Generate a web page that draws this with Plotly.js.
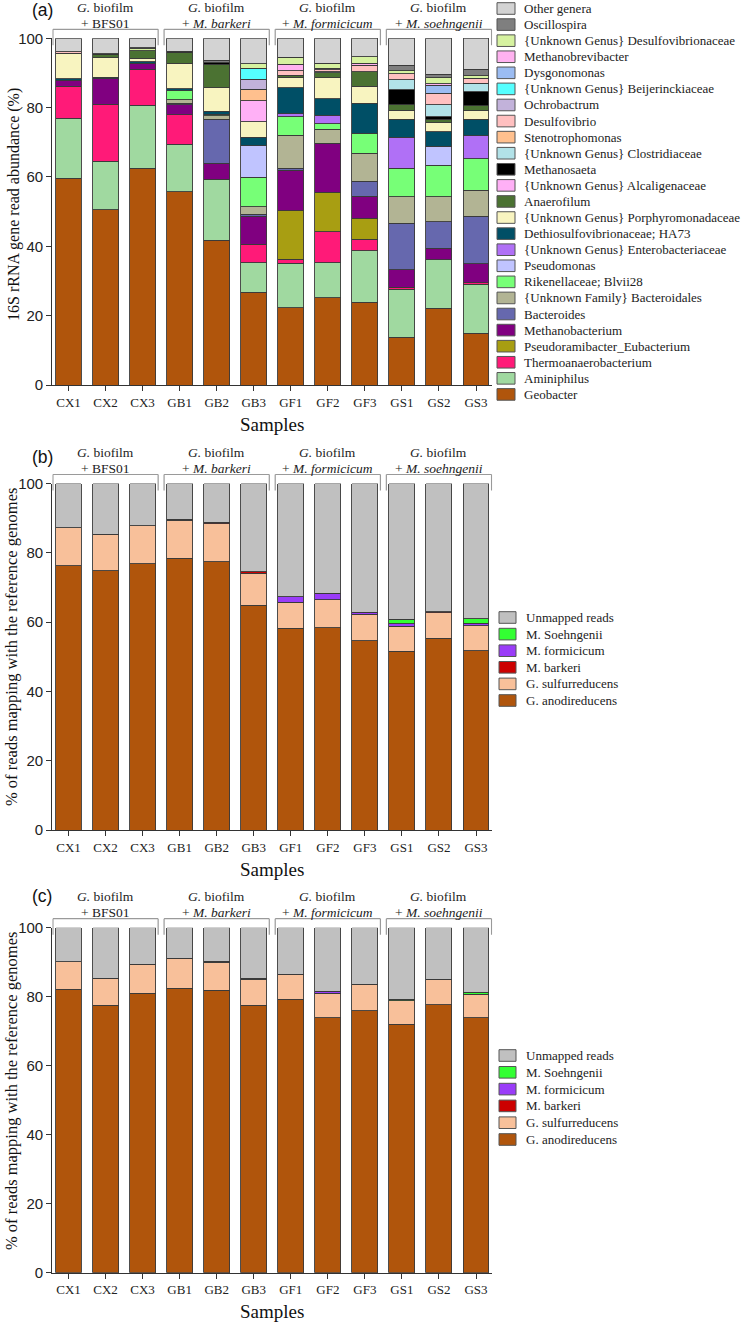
<!DOCTYPE html>
<html><head><meta charset="utf-8">
<script src="https://cdn.plot.ly/plotly-3.0.1.min.js"></script>
<style>html,body{margin:0;padding:0;background:#fff}#chart{width:748px;height:1324px}</style>
</head><body><div id="chart"></div>
<script>
const samples = ['CX1','CX2','CX3','GB1','GB2','GB3','GF1','GF2','GF3','GS1','GS2','GS3'];
const groupTop = ['<i>G.</i> biofilm','<i>G.</i> biofilm','<i>G.</i> biofilm','<i>G.</i> biofilm'];
const groupBottom = ['+ BFS01','+ <i>M. barkeri</i>','+ <i>M. formicicum</i>','+ <i>M. soehngenii</i>'];

// Panel (a): 16S rRNA read abundance (%), stacked bottom -> top
const geobacter        = [59.7,50.5,62.5,55.8,41.7,26.8,22.3,25.2,23.9,13.8,22.1,15.0];
const aminiphilus      = [17.2,14.0,18.2,13.7,17.6, 8.5,12.8,10.1,14.8,13.8,14.0,14.0];
const thermoanaero     = [ 9.2,16.5,10.4, 8.4, 0.0, 5.3, 1.2, 8.9, 3.4, 0.6, 0.0, 0.5];
const pseudoramibacter = [ 0.0, 0.0, 0.0, 0.0, 0.0, 0.0,14.0,11.4, 6.0, 0.0, 0.0, 0.0];
const methanobacterium = [ 1.8, 7.3, 1.7, 2.9, 4.6, 8.1,11.6,14.2, 6.4, 5.0, 3.3, 5.5];
const bacteroides      = [ 0.0, 0.0, 0.0, 0.4,12.7, 0.6, 0.6, 0.0, 4.3,13.4, 7.7,13.7];
const bacteroidales    = [ 0.0, 0.0, 0.0, 1.1, 1.1, 2.1, 9.6, 4.0, 8.0, 7.7, 7.2, 7.5];
const rikenellaceae    = [ 0.0, 0.0, 0.0, 2.6, 0.4, 8.5, 5.3, 1.6, 5.8, 8.2, 9.1, 9.0];
const pseudomonas      = [ 0.0, 0.0, 0.0, 0.0, 0.0, 9.1, 0.0, 0.0, 0.0, 0.0, 5.5, 0.0];
const enterobact       = [ 0.0, 0.0, 0.0, 0.0, 0.0, 0.0, 0.8, 2.4, 0.0, 9.0, 0.0, 6.7];
const ha73             = [ 0.5, 0.4, 0.4, 0.5, 0.8, 2.4, 7.5, 4.8, 8.7, 5.1, 4.1, 4.8];
const porphyromonad    = [ 7.3, 5.7, 1.1, 7.4, 6.9, 4.6, 3.0, 6.0, 4.8, 2.7, 2.6, 2.4];
const anaerofilum      = [ 0.0, 0.8, 2.1, 3.1, 6.7, 0.0, 0.7, 1.4, 4.2, 1.6, 1.0, 1.5];
const alcaligenaceae   = [ 0.0, 0.0, 0.0, 0.0, 0.0, 6.0, 0.0, 0.0, 0.0, 0.0, 0.0, 0.0];
const methanosaeta     = [ 0.0, 0.4, 0.0, 0.4, 0.5, 0.0, 0.0, 0.0, 0.0, 4.3, 0.8, 4.0];
const clostridiaceae   = [ 0.0, 0.0, 0.0, 0.0, 0.0, 0.0, 0.0, 0.4, 0.0, 2.9, 3.5, 2.4];
const stenotrophomonas = [ 0.0, 0.0, 0.0, 0.0, 0.0, 3.3, 0.0, 0.0, 0.0, 0.0, 0.0, 0.0];
const desulfovibrio    = [ 0.4, 0.0, 0.0, 0.0, 0.0, 0.0, 1.2, 0.5, 1.9, 1.7, 3.3, 1.5];
const ochrobactrum     = [ 0.0, 0.0, 0.0, 0.0, 0.0, 2.9, 0.0, 0.0, 0.0, 0.0, 0.0, 0.0];
const beijerinckiaceae = [ 0.0, 0.0, 0.0, 0.0, 0.0, 3.2, 0.0, 0.0, 0.0, 0.0, 0.0, 0.0];
const dysgonomonas     = [ 0.0, 0.0, 0.0, 0.0, 0.0, 0.0, 0.0, 0.0, 0.0, 0.0, 2.2, 0.0];
const methanobrevi     = [ 0.0, 0.0, 0.0, 0.0, 0.0, 0.0, 1.9, 0.5, 0.6, 0.0, 0.5, 0.0];
const desulfovibrionac = [ 0.0, 0.0, 0.6, 0.0, 0.0, 1.2, 2.0, 1.4, 1.9, 0.8, 1.7, 0.7];
const oscillospira     = [ 0.0, 0.0, 0.3, 0.0, 0.6, 0.0, 0.0, 0.0, 0.0, 1.7, 1.0, 1.9];
const otherGenera      = [ 3.9, 4.4, 2.7, 3.7, 6.4, 7.4, 5.5, 7.2, 5.3, 7.7,10.4, 8.9];

const generaNames = ['Geobacter','Aminiphilus','Thermoanaerobacterium','Pseudoramibacter_Eubacterium',
  'Methanobacterium','Bacteroides','{Unknown Family} Bacteroidales','Rikenellaceae; Blvii28','Pseudomonas',
  '{Unknown Genus} Enterobacteriaceae','Dethiosulfovibrionaceae; HA73','{Unknown Genus} Porphyromonadaceae',
  'Anaerofilum','{Unknown Genus} Alcaligenaceae','Methanosaeta','{Unknown Genus} Clostridiaceae',
  'Stenotrophomonas','Desulfovibrio','Ochrobactrum','{Unknown Genus} Beijerinckiaceae','Dysgonomonas',
  'Methanobrevibacter','{Unknown Genus} Desulfovibrionaceae','Oscillospira','Other genera'];
const generaValues = [geobacter,aminiphilus,thermoanaero,pseudoramibacter,methanobacterium,bacteroides,
  bacteroidales,rikenellaceae,pseudomonas,enterobact,ha73,porphyromonad,anaerofilum,alcaligenaceae,
  methanosaeta,clostridiaceae,stenotrophomonas,desulfovibrio,ochrobactrum,beijerinckiaceae,dysgonomonas,
  methanobrevi,desulfovibrionac,oscillospira,otherGenera];
const generaColors = ['#b0550c','#a0d9a0','#ff1a78','#a89e12','#800080','#6668ae','#b2b494','#77ff77',
  '#c0c4ff','#b070f6','#004f66','#f8f4c0','#4b7232','#ffb0f6','#000000','#b2e2e8','#ffc08e','#ffc0c0',
  '#c2b2da','#55ffff','#9bbcf2','#ffb2f0','#d6f2a0','#7f7f7f','#d3d3d3'];

// Panels (b) and (c): % of reads mapping with reference genomes
const refNames  = ['G. anodireducens','G. sulfurreducens','M. barkeri','M. formicicum','M. Soehngenii','Unmapped reads'];
const refColors = ['#b0550c','#f8c09a','#cc0000','#9a3cf8','#33ff33','#c0c0c0'];
const bAnodi   = [76.3,74.8,76.8,78.4,77.4,64.8,58.2,58.4,54.6,51.6,55.3,51.8];
const bSulfur  = [11.0,10.6,11.0,11.0,11.0, 9.3, 7.5, 8.0, 7.6, 7.2, 7.4, 7.1];
const bBarkeri = [ 0.0, 0.0, 0.0, 0.3, 0.4, 0.4, 0.0, 0.0, 0.0, 0.0, 0.3, 0.0];
const bFormic  = [ 0.0, 0.0, 0.0, 0.0, 0.0, 0.0, 1.6, 1.9, 0.7, 0.7, 0.0, 0.7];
const bSoehn   = [ 0.0, 0.0, 0.0, 0.0, 0.0, 0.0, 0.0, 0.0, 0.0, 1.3, 0.0, 1.3];
const bUnmap   = [12.7,14.6,12.2,10.3,11.2,25.5,32.7,31.7,37.1,39.2,37.0,39.1];
const cAnodi   = [82.2,77.5,81.0,82.5,81.8,77.5,79.3,73.9,75.9,72.0,77.6,73.9];
const cSulfur  = [ 8.0, 7.8, 8.4, 8.6, 8.2, 7.6, 7.0, 7.1, 7.5, 6.8, 7.4, 6.8];
const cBarkeri = [ 0.0, 0.0, 0.0, 0.0, 0.3, 0.2, 0.2, 0.0, 0.2, 0.0, 0.0, 0.0];
const cFormic  = [ 0.0, 0.0, 0.0, 0.0, 0.0, 0.0, 0.0, 0.6, 0.0, 0.0, 0.0, 0.0];
const cSoehn   = [ 0.0, 0.0, 0.0, 0.0, 0.0, 0.0, 0.0, 0.0, 0.0, 0.5, 0.0, 0.6];
const cUnmap   = [ 9.8,14.7,10.6, 8.9, 9.7,14.7,13.5,18.4,16.4,20.7,15.0,18.7];

const W = 748, H = 1324;
const SERIF = '"Liberation Serif","Times New Roman",serif';
const SANS = '"Liberation Sans",Arial,sans-serif';
const py = p => (H - p) / H;
const pxx = p => p / W;

const panels = [
  {xa:'x', ya:'y', top:38.3, bottom:385, tag:'(a)', tagY:10, ytitle:'16S rRNA gene read abundance (%)', ytY:205, ytS:16, ytX:14, sY:424},
  {xa:'x2', ya:'y2', top:483.5, bottom:830, tag:'(b)', tagY:457, ytitle:'% of reads mapping with the reference genomes', ytY:647, ytS:16.5, ytX:11, sY:869},
  {xa:'x3', ya:'y3', top:927.7, bottom:1272.7, tag:'(c)', tagY:896, ytitle:'% of reads mapping with the reference genomes', ytY:1091, ytS:16.5, ytX:11, sY:1311}
];

const traces = [];
const lineStyle = {color:'#3a3a3a', width:0.9};
generaNames.forEach((n,i) => traces.push({type:'bar', name:n, x:samples, y:generaValues[i], xaxis:'x', yaxis:'y',
  marker:{color:generaColors[i], line:lineStyle}, showlegend:false}));
const bVals = [bAnodi,bSulfur,bBarkeri,bFormic,bSoehn,bUnmap];
const cVals = [cAnodi,cSulfur,cBarkeri,cFormic,cSoehn,cUnmap];
refNames.forEach((n,i) => {
  traces.push({type:'bar', name:n, x:samples, y:bVals[i], xaxis:'x2', yaxis:'y2', marker:{color:refColors[i], line:lineStyle}, showlegend:false});
  traces.push({type:'bar', name:n, x:samples, y:cVals[i], xaxis:'x3', yaxis:'y3', marker:{color:refColors[i], line:lineStyle}, showlegend:false});
});

const xDom = [pxx(52.2), pxx(492.3)];
const layout = {width:W, height:H, margin:{l:0,r:0,t:0,b:0}, paper_bgcolor:'#fff', plot_bgcolor:'#fff',
  barmode:'stack', bargap:0.3, showlegend:false, shapes:[], annotations:[], font:{family:SERIF, color:'#222'}};

panels.forEach((p,k) => {
  const sfx = k === 0 ? '' : String(k+1);
  layout['xaxis'+sfx] = {domain:xDom, anchor:p.ya, type:'category', range:[-0.44, 11.44], showline:true,
    linecolor:'#333', linewidth:1, ticks:'outside', ticklen:5, tickcolor:'#333', showgrid:false, zeroline:false,
    tickfont:{family:SERIF, size:13, color:'#222'}, fixedrange:true};
  layout['yaxis'+sfx] = {domain:[py(p.bottom), py(p.top)], anchor:p.xa, range:[0,100], dtick:20, showline:true,
    linecolor:'#333', linewidth:1, ticks:'outside', ticklen:5, tickcolor:'#333', showgrid:false, zeroline:false,
    tickfont:{family:SANS, size:15, color:'#222'}, fixedrange:true};
  for (let g = 0; g < 4; g++) {
    const xa = p.xa, x0 = g*3 - 0.42, x1 = g*3 + 2.42;
    const yh = py(p.top - 9), ye = py(p.top + 7);
    const ln = {color:'#9a9a9a', width:1.2};
    layout.shapes.push({type:'line', xref:xa, yref:'paper', x0:x0, x1:x1, y0:yh, y1:yh, line:ln});
    layout.shapes.push({type:'line', xref:xa, yref:'paper', x0:x0, x1:x0, y0:yh, y1:ye, line:ln});
    layout.shapes.push({type:'line', xref:xa, yref:'paper', x0:x1, x1:x1, y0:yh, y1:ye, line:ln});
    layout.annotations.push({xref:xa, yref:'paper', x:g*3+1, y:py(p.top - 31), text:groupTop[g], showarrow:false,
      xanchor:'center', yanchor:'middle', font:{family:SERIF, size:13.5, color:'#222'}});
    layout.annotations.push({xref:xa, yref:'paper', x:g*3+1, y:py(p.top - 15), text:groupBottom[g], showarrow:false,
      xanchor:'center', yanchor:'middle', font:{family:SERIF, size:13.5, color:'#222'}});
  }
  layout.annotations.push({xref:'paper', yref:'paper', x:pxx(30), y:py(p.tagY), text:p.tag, showarrow:false,
    xanchor:'left', yanchor:'middle', font:{family:SANS, size:17.5, color:'#111'}});
  layout.annotations.push({xref:'paper', yref:'paper', x:pxx(p.ytX), y:py(p.ytY), text:p.ytitle, showarrow:false,
    textangle:-90, xanchor:'center', yanchor:'middle', font:{family:SERIF, size:p.ytS, color:'#111'}});
  layout.annotations.push({xref:'paper', yref:'paper', x:pxx(272), y:py(p.sY), text:'Samples', showarrow:false,
    xanchor:'center', yanchor:'middle', font:{family:SERIF, size:19, color:'#111'}});
});

function addLegend(names, colors, firstY, step, swX0, swX1, txtX) {
  const n = names.length;
  for (let j = 0; j < n; j++) {
    const idx = n - 1 - j;
    const yc = firstY + j*step;
    layout.shapes.push({type:'rect', xref:'paper', yref:'paper', x0:pxx(swX0), x1:pxx(swX1), y0:py(yc+5.8), y1:py(yc-5.8),
      fillcolor:colors[idx], line:{color:'#555', width:1}});
    layout.annotations.push({xref:'paper', yref:'paper', x:pxx(txtX), y:py(yc), text:names[idx], showarrow:false,
      xanchor:'left', yanchor:'middle', font:{family:SERIF, size:13, color:'#222'}});
  }
}
addLegend(generaNames, generaColors, 8.5, 16.08, 497, 515, 522);
addLegend(refNames, refColors, 617.5, 16.6, 499, 516, 524);
addLegend(refNames, refColors, 1055.5, 16.8, 499, 516, 524);

Plotly.newPlot('chart', traces, layout, {staticPlot:true, displayModeBar:false});
</script>
</body></html>
